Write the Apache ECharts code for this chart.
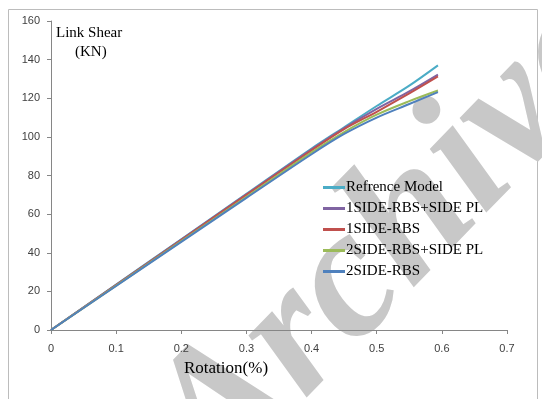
<!DOCTYPE html>
<html>
<head>
<meta charset="utf-8">
<script src="https://cdn.jsdelivr.net/npm/echarts@6/dist/echarts.min.js"></script>
<style>
  html, body { margin: 0; padding: 0; background: #fff; }
  #chart { width: 542px; height: 399px; }
</style>
</head>
<body>
<div id="chart"></div>
<script>
// rotation (%) sample points
var rotation = [0, 0.1, 0.2, 0.3, 0.4, 0.45, 0.5, 0.55, 0.594]
// link shear (KN) per model
var refModel = [0, 23.5, 47, 70.5, 94, 105, 116, 126.5, 137]
var side1PL = [0, 23.4, 46.8, 70.2, 93.5, 104.5, 114.5, 123.5, 132.2]
var side1 = [0, 23.3, 46.6, 70, 93, 104, 113, 122.5, 131.3]
var side2PL = [0, 23, 46, 69, 92, 102.5, 111.5, 118.5, 124]
var side2 = [0, 22.8, 45.6, 68.4, 91, 101.5, 110, 117, 123.2]

var names = ['Refrence Model', '1SIDE-RBS+SIDE PL', '1SIDE-RBS', '2SIDE-RBS+SIDE PL', '2SIDE-RBS']
var colors = ['#4bacc6', '#8064a2', '#c0504d', '#9bbb59', '#4f81bd']
var values = [refModel, side1PL, side1, side2PL, side2]

function pairs(ys) {
    return rotation.map(function (x, i) { return [x, ys[i]] })
}

var chart = echarts.init(document.getElementById('chart'))
var serif = '"Liberation Serif", "Times New Roman", serif'
var sans = '"Liberation Sans", Arial, sans-serif'

var option = {
    animation: false,
    color: colors,
    grid: { left: 51, right: 35, top: 21, bottom: 69, containLabel: false },
    graphic: [
        {
            type: 'rect', silent: true, z: -10,
            shape: { x: 8.5, y: 9.5, width: 529, height: 420 },
            style: { fill: null, stroke: '#bcbcbc', lineWidth: 1 }
        },
        {
            // watermark
            type: 'text', silent: true, z: -5,
            x: 250, y: 520, rotation: 0.8,
            style: {
                text: 'Archive', fill: '#c8c8c8',
                font: 'italic bold 185px ' + serif,
                textVerticalAlign: 'bottom'
            }
        },
        {
            type: 'text', silent: true,
            left: 56, top: 26,
            style: { text: 'Link Shear', fill: '#000', font: '15px ' + serif }
        },
        {
            type: 'text', silent: true,
            left: 75, top: 45,
            style: { text: '(KN)', fill: '#000', font: '15px ' + serif }
        },
        {
            type: 'text', silent: true,
            left: 184, top: 360,
            style: { text: 'Rotation(%)', fill: '#000', font: '17px ' + serif }
        }
    ],
    legend: {
        orient: 'vertical',
        left: 318,
        top: 175,
        data: names,
        icon: 'rect',
        itemWidth: 22,
        itemHeight: 3,
        itemGap: 6,
        textStyle: { fontFamily: serif, fontSize: 15, color: '#000', lineHeight: 15, padding: [0, 0, 0, -4] }
    },
    xAxis: {
        type: 'value',
        min: 0, max: 0.7, interval: 0.1,
        axisLine: { lineStyle: { color: '#868686' } },
        axisTick: { show: true, length: 4, lineStyle: { color: '#868686' } },
        axisLabel: { margin: 13, fontFamily: sans, fontSize: 11, color: '#404040' },
        splitLine: { show: false }
    },
    yAxis: {
        type: 'value',
        min: 0, max: 160, interval: 20,
        axisLine: { show: true, lineStyle: { color: '#868686' } },
        axisTick: { show: true, length: 4, lineStyle: { color: '#868686' } },
        axisLabel: { margin: 11, fontFamily: sans, fontSize: 11, color: '#404040' },
        splitLine: { show: false }
    },
    series: values.map(function (v, i) {
        return {
            name: names[i],
            type: 'line',
            data: pairs(v),
            smooth: 0.3,
            showSymbol: false,
            lineStyle: { width: 2, color: colors[i] },
            itemStyle: { color: colors[i] }
        }
    })
}
chart.setOption(option)
</script>
</body>
</html>
